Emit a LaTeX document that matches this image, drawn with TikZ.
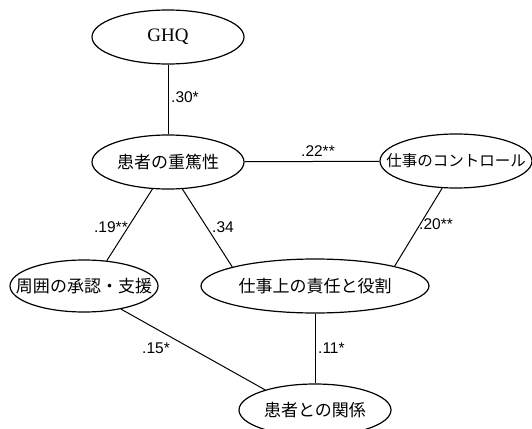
\documentclass[tikz,border=0pt]{standalone}
\usepackage{fontspec}
\setmainfont{Liberation Sans}
\newfontfamily\serifgh{Liberation Serif}
\newfontfamily\cjk{Noto Sans CJK JP}
\usetikzlibrary{shapes.geometric}
\tikzset{
  ell/.style={draw, ellipse, line width=1.2pt, inner sep=0pt},
  jtext/.style={font=\cjk\fontsize{17pt}{19pt}\selectfont, inner sep=0pt},
  coef/.style={font=\fontsize{15.5pt}{17pt}\selectfont, inner sep=1pt},
  conn/.style={line width=1pt},
}
\begin{document}
\begin{tikzpicture}[x=1pt,y=-1pt]
\useasboundingbox (0,0) rectangle (532,428);
% ellipse nodes
\node[ell, minimum width=152pt, minimum height=54pt,
      label={[font=\serifgh\fontsize{19pt}{21pt}\selectfont, inner sep=0pt]center:GHQ}] (ghq) at (168,37) {};
\node[ell, minimum width=152pt, minimum height=54pt,
      label={[jtext]center:患者の重篤性}] (sev) at (168,162) {};
\node[ell, minimum width=152pt, minimum height=54pt,
      label={[jtext, font=\cjk\fontsize{15.5pt}{17pt}\selectfont]center:仕事のコントロール}] (ctrl) at (456,161) {};
\node[ell, minimum width=148pt, minimum height=52pt,
      label={[jtext]center:周囲の承認・支援}] (sup) at (84,286) {};
\node[ell, minimum width=228pt, minimum height=54pt,
      label={[jtext]center:仕事上の責任と役割}] (role) at (315,286) {};
\node[ell, minimum width=152pt, minimum height=52pt,
      label={[jtext]center:患者との関係}] (rel) at (315,410) {};
% connectors
\draw[conn] (ghq) -- (sev);
\draw[conn] (sev) -- (ctrl);
\draw[conn] (sev.240) -- (sup.48);
\draw[conn] (sev.-62) -- (role.167);
\draw[conn] (ctrl.243) -- (role.14.6);
\draw[conn] (sup.-32) -- (rel.158.6);
\draw[conn] (role) -- (rel);
% coefficients
\node[coef, anchor=west] (c30) at (170,97) {.30*};
\node[coef] (c22) at (318,151) {.22**};
\node[coef, anchor=east] (c19) at (129,227) {.19**};
\node[coef, anchor=west] (c34) at (211,227) {.34};
\node[coef, anchor=west] (c20) at (418,224) {.20**};
\node[coef] (c15) at (156,348) {.15*};
\node[coef, anchor=west] (c11) at (317,348) {.11*};
\end{tikzpicture}
\end{document}
